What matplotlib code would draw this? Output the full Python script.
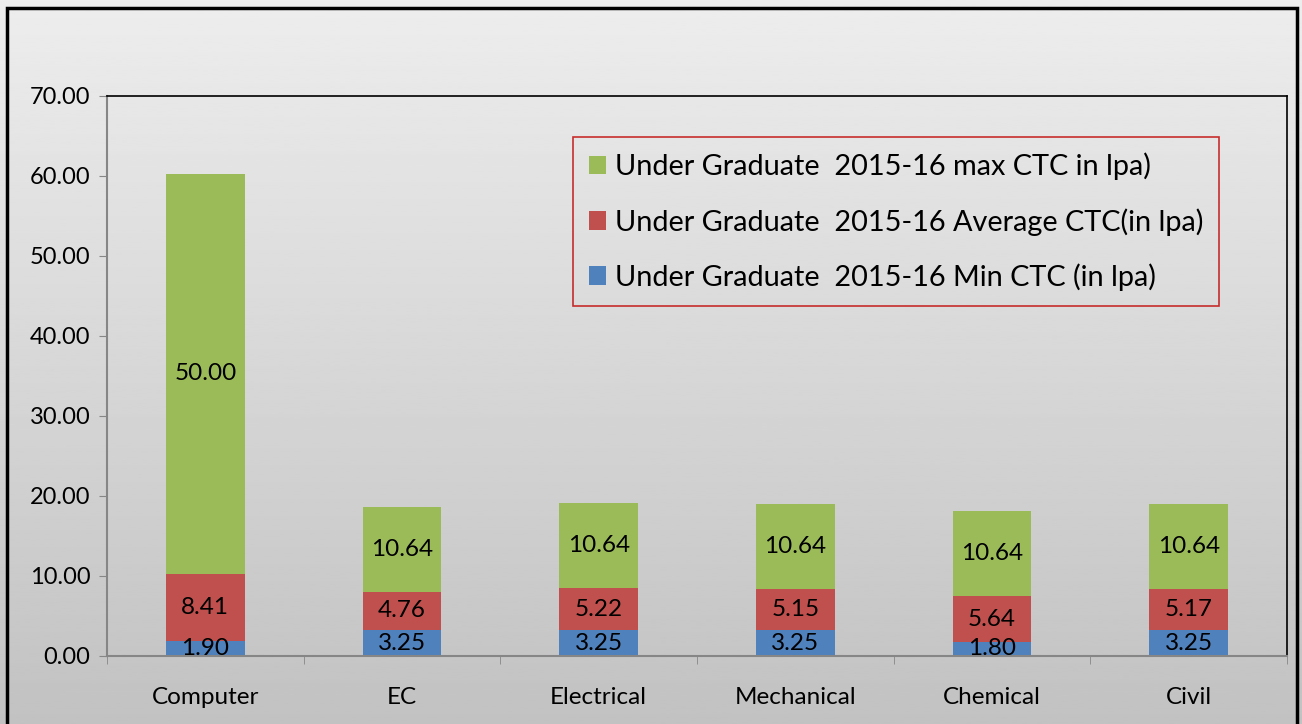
import matplotlib.pyplot as plt
import numpy as np
from matplotlib.patches import Rectangle

plt.rcParams['font.family'] = ['Lato', 'DejaVu Sans']

branches = ["Computer", "EC", "Electrical", "Mechanical", "Chemical", "Civil"]
min_ctc = [1.90, 3.25, 3.25, 3.25, 1.80, 3.25]
avg_ctc = [8.41, 4.76, 5.22, 5.15, 5.64, 5.17]
max_ctc = [50.00, 10.64, 10.64, 10.64, 10.64, 10.64]

lbl_min = "Under Graduate  2015-16 Min CTC (in lpa)"
lbl_avg = "Under Graduate  2015-16 Average CTC(in lpa)"
lbl_max = "Under Graduate  2015-16 max CTC in lpa)"

c_blue, c_red, c_green = "#4f81bd", "#c0504d", "#9bbb59"

fig = plt.figure(figsize=(13.02, 7.24), dpi=100)

# gradient background for the whole chart
bg = fig.add_axes([0, 0, 1, 1], zorder=-10)
grad = np.linspace(0.93, 0.76, 256).reshape(-1, 1)
bg.imshow(grad, cmap='gray', vmin=0, vmax=1, aspect='auto', extent=[0, 1, 0, 1])
bg.axis('off')

W, H = 1302, 724
ax = fig.add_axes([107 / W, 1 - 656 / H, (1287 - 107) / W, (656 - 96) / H])
ax.set_facecolor('none')

x = np.arange(len(branches))
bw = 0.4
b1 = ax.bar(x, min_ctc, bw, color=c_blue, label=lbl_min)
bot2 = np.array(min_ctc)
b2 = ax.bar(x, avg_ctc, bw, bottom=bot2, color=c_red, label=lbl_avg)
bot3 = bot2 + np.array(avg_ctc)
b3 = ax.bar(x, max_ctc, bw, bottom=bot3, color=c_green, label=lbl_max)

for bars in (b1, b2, b3):
    ax.bar_label(bars, labels=[f"{b.get_height():.2f}" for b in bars],
                 label_type='center', fontsize=17.5, color='black')

ax.set_xlim(-0.5, len(branches) - 0.5)
ax.set_ylim(0, 70)
ax.set_yticks(np.arange(0, 71, 10))
ax.set_yticklabels([f"{v:.2f}" for v in np.arange(0, 71, 10)], fontsize=17)
ax.set_xticks(x)
ax.set_xticklabels(branches, fontsize=17.5)
ax.set_xticks(np.arange(-0.5, len(branches), 1), minor=True)
ax.tick_params(axis='x', which='major', length=0, pad=22)
ax.tick_params(axis='x', which='minor', length=6, color='#868686')
ax.tick_params(axis='y', length=6, color='#868686', pad=6)

for s in ('left', 'bottom'):
    ax.spines[s].set_color('#868686')
    ax.spines[s].set_linewidth(1.5)
for s in ('top', 'right'):
    ax.spines[s].set_color('black')
    ax.spines[s].set_linewidth(1.2)

handles = [b3, b2, b1]
leg = ax.legend(handles, [lbl_max, lbl_avg, lbl_min], loc='upper left',
                bbox_to_anchor=((573 - 107) / 1180, 1 - (137 - 96) / 560),
                fontsize=20.8, frameon=True, fancybox=False, handlelength=0.6,
                handleheight=0.6, handletextpad=0.3, labelspacing=0.95,
                borderpad=0.55, borderaxespad=0)
leg.get_frame().set_edgecolor('#c00000')
leg.get_frame().set_linewidth(1.2)
leg.get_frame().set_facecolor('none')

# outer chart border
fig.patches.append(Rectangle((7 / W, -0.02), (1297 - 7) / W, 1 - 8 / H + 0.02,
                             transform=fig.transFigure, fill=False,
                             edgecolor='black', linewidth=2.5))

fig.savefig("out.png", dpi=100)
